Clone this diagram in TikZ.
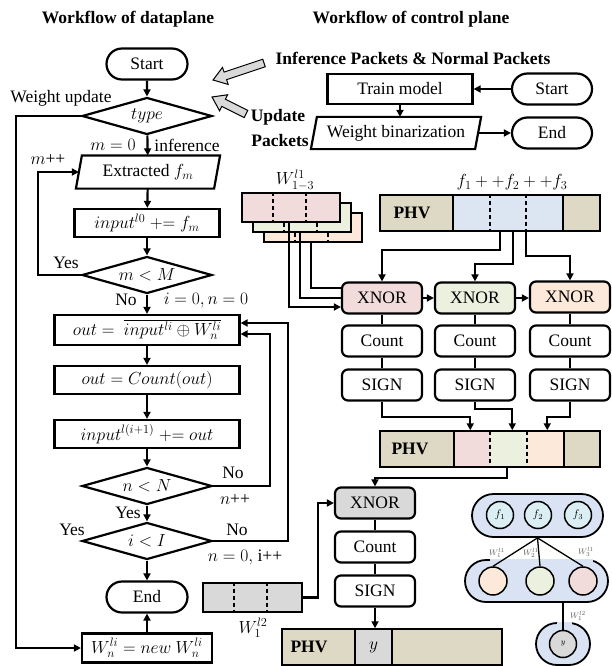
\RequirePackage{fix-cm}
\documentclass[tikz,border=0pt]{standalone}
\usepackage{fontspec}
\setmainfont{Liberation Serif}
\usetikzlibrary{shapes.geometric,shapes.misc,arrows.meta,calc}
\definecolor{cpink}{HTML}{F2DCDB}
\definecolor{cgreen}{HTML}{EBF1DE}
\definecolor{corange}{HTML}{FDE9D9}
\definecolor{cblue}{HTML}{DCE6F2}
\definecolor{ctan}{HTML}{DDD9C4}
\definecolor{cgray}{HTML}{D9D9D9}
\definecolor{cnn}{HTML}{DAE3F3}
\definecolor{ccyan}{HTML}{DAEEF3}
\newcommand\myfs{\fontsize{17.5}{20}\selectfont}
\newcommand\myfsb{\fontsize{17.5}{20}\selectfont\bfseries}
\newcommand\myfsm{\fontsize{11}{12}\selectfont}
\newcommand\myfst{\fontsize{8}{9}\selectfont}
\newcommand\grayarrow[2]{%
  \coordinate (gaT) at #1; \coordinate (gaH) at #2;
  \coordinate (gaB) at ($(gaH)!13pt!(gaT)$);
  \draw[line width=1pt, fill=cgray] ($(gaT)!4pt!90:(gaH)$) -- ($(gaB)!4pt!90:(gaH)$) -- ($(gaB)!9pt!90:(gaH)$) -- (gaH) -- ($(gaB)!9pt!-90:(gaH)$) -- ($(gaB)!4pt!-90:(gaH)$) -- ($(gaT)!4pt!-90:(gaH)$) -- cycle;}
\tikzset{
  lw/.style={line width=2.2pt},
  base/.style={font=\myfs, inner sep=0pt, lw},
  sbox/.style={base, draw, rectangle, minimum width=#1, minimum height=28pt},
  term/.style={base, draw, rounded rectangle, minimum width=81pt, minimum height=31pt},
  dia/.style={base, draw, diamond, aspect=3.5, minimum width=130pt, minimum height=37pt},
  plain/.style={font=\myfs, inner sep=1pt},
  arr/.style={lw, -{Triangle[length=7pt,width=7pt]}},
  rbox/.style={base, draw, rounded corners=6pt, minimum width=80pt, minimum height=31pt},
  wrect/.style={draw, lw, minimum width=98pt, minimum height=29pt, inner sep=0pt},
  ptan/.style={draw, fill=ctan, line width=1.5pt, minimum width=220pt, minimum height=36pt, inner sep=0pt},
  seg/.style={minimum width=#1, minimum height=36pt, inner sep=0pt},
  dsh/.style={lw, dash pattern=on 4pt off 3pt},
  capsule/.style={draw, fill=cnn, rounded rectangle, line width=1.8pt, inner sep=0pt},
  nc/.style={circle, draw, line width=1.5pt, minimum size=#1, inner sep=0pt, font=\myfsm},
  nnlab/.style={font=\myfst, text=black!65, inner sep=0pt},
}
\begin{document}
\begin{tikzpicture}[x=1pt,y=-1pt]
\useasboundingbox (0,0) rectangle (611,666);
% titles
\node[font=\myfsb] (t1) at (128,19) {Workflow of dataplane};
\node[font=\myfsb] (t2) at (411,19) {Workflow of control plane};
% ---------------- data plane flowchart
\node[term] (st) at (147,64) {Start};
\node[dia] (ty) at (147,116) {$type$};
\node[base, minimum width=136pt, minimum height=31pt] (ex) at (148,172) {Extracted $f_m$};
\draw[lw] ($(ex.north west)+(3,0)$) -- ($(ex.north east)+(3,0)$) -- ($(ex.south east)+(-3,0)$) -- ($(ex.south west)+(-3,0)$) -- cycle;
\node[sbox=145pt] (i0) at (147,223) {$input^{l0} \mathrel{+{=}} f_m$};
\node[dia] (mM) at (147,275) {$m<M$};
\node[sbox=185pt, minimum height=30pt] (ou) at (147,330) {$out =\ \overline{input^{li}\oplus W_n^{li}}$};
\node[sbox=185pt] (cn) at (147,380) {$out = Count(out)$};
\node[sbox=185pt] (i1) at (147,434) {$input^{l(i+1)} \mathrel{+{=}} out$};
\node[dia] (nN) at (147,486) {$n<N$};
\node[dia] (iI) at (147,541) {$i<I$};
\node[term] (en) at (147,597) {End};
\node[sbox=130pt, minimum height=29pt] (wn) at (147,648) {$W_n^{li} = new\ W_n^{li}$};
\draw[arr] (st) -- (ty);
\draw[arr] (ty) -- (ex);
\draw[arr] (ex) -- (i0);
\draw[arr] (i0) -- (mM);
\draw[arr] (mM) -- (ou);
\draw[arr] (ou) -- (cn);
\draw[arr] (cn) -- (i1);
\draw[arr] (i1) -- (nN);
\draw[arr] (nN) -- (iI);
\draw[arr] (iI) -- (en);
\draw[arr] (wn) -- (en);
\coordinate (Lm) at (38,0);
\coordinate (Lo) at (16,0);
\coordinate (Rn) at (270,0);
\coordinate (Ri) at (288,0);
\draw[arr] (mM.west) -- (mM.west -| Lm) |- (ex.west);
\draw[arr] (ty.west) -- (ty.west -| Lo) |- (wn.west);
\draw[arr] (nN.east) -- (nN.east -| Rn) |- ($(ou.east)+(0,4)$);
\draw[arr] (iI.east) -- (iI.east -| Ri) |- ($(ou.east)+(0,-7)$);
% labels
\node[plain] (lwu) at (61,98) {Weight update};
\node[plain] (lm0) at (113,145) {$m=0$};
\node[plain] (linf) at (187,145) {inference};
\node[plain] (lmpp) at (48,160) {$m$++};
\node[plain] (ly1) at (66,263) {Yes};
\node[plain] (ln1) at (126,300) {No};
\node[plain] (li0) at (206,300) {$i=0,n=0$};
\node[plain] (ln2) at (233,473) {No};
\node[plain] (lnpp) at (235,500) {$n$++};
\node[plain] (ly2) at (128,513) {Yes};
\node[plain] (ly3) at (72,530) {Yes};
\node[plain] (ln3) at (237,530) {No};
\node[plain] (li3) at (245,557) {$n=0,$ i++};
% gray packet arrows
\grayarrow{(264,63)}{(213,80)}
\grayarrow{(246,114)}{(212,97)}
% ---------------- control plane
\node[font=\myfsb, inner sep=1pt] (lip) at (413,58) {Inference Packets \& Normal Packets};
\node[sbox=145pt, minimum height=30pt] (tm) at (400,89) {Train model};
\node[term, minimum width=80pt] (st2) at (552,89) {Start};
\node[base, minimum width=162pt, minimum height=30pt] (wb) at (396,133) {Weight binarization};
\draw[lw] ($(wb.north west)+(3,0)$) -- ($(wb.north east)+(3,0)$) -- ($(wb.south east)+(-3,0)$) -- ($(wb.south west)+(-3,0)$) -- cycle;
\node[term, minimum width=80pt] (en2) at (552,133) {End};
\draw[arr] (st2) -- (tm);
\draw[arr] (tm) -- (tm |- wb.north);
\draw[arr] (wb.east) -- (en2);
\node[font=\myfsb, inner sep=1pt] (lup) at (278,117) {Update};
\node[font=\myfsb, inner sep=1pt] (lpk) at (280,141) {Packets};
% weight stack
\node[wrect, fill=corange] (wk3) at (313,227.5) {};
\draw[dsh] ($(wk3.north west)+(32,0)$) -- ($(wk3.south west)+(32,0)$);
\draw[dsh] ($(wk3.north west)+(65,0)$) -- ($(wk3.south west)+(65,0)$);
\node[wrect, fill=cgreen] (wk2) at (302,217.5) {};
\draw[dsh] ($(wk2.north west)+(32,0)$) -- ($(wk2.south west)+(32,0)$);
\draw[dsh] ($(wk2.north west)+(65,0)$) -- ($(wk2.south west)+(65,0)$);
\node[wrect, fill=cpink] (wk1) at (291,207.5) {};
\draw[dsh] ($(wk1.north west)+(32,0)$) -- ($(wk1.south west)+(32,0)$);
\draw[dsh] ($(wk1.north west)+(65,0)$) -- ($(wk1.south west)+(65,0)$);
\node[font=\myfs, inner sep=0pt] (lw1) at (295,180) {$W_{1-3}^{l1}$};
% PHV 1
\node[ptan] (p1) at (490,213) {};
\node[draw, fill=cblue, lw, seg=110pt] (p1s) at (508,213) {};
\draw[dsh] ($(p1s.north west)+(38,0)$) -- ($(p1s.south west)+(38,0)$);
\draw[dsh] ($(p1s.north west)+(74,0)$) -- ($(p1s.south west)+(74,0)$);
\node[font=\myfsb, inner sep=0pt] (p1l) at (412,213) {PHV};
\node[font=\myfs, inner sep=0pt] (lf) at (512,182) {$f_1++f_2++f_3$};
% XNOR stage
\node[rbox, fill=cpink] (x1) at (382,298) {XNOR};
\node[rbox, fill=cgreen] (x2) at (475,298) {XNOR};
\node[rbox, fill=corange] (x3) at (570,297) {XNOR};
\node[rbox] (c1) at (382,341) {Count};
\node[rbox] (c2) at (475,341) {Count};
\node[rbox] (c3) at (570,341) {Count};
\node[rbox] (s1) at (382,385) {SIGN};
\node[rbox] (s2) at (475,385) {SIGN};
\node[rbox] (s3) at (570,385) {SIGN};
\draw[lw] (x1) -- (c1) (c1) -- (s1);
\draw[lw] (x2) -- (c2) (c2) -- (s2);
\draw[lw] (x3) -- (c3) (c3) -- (s3);
\draw[arr] (x1) -- (x2);
\draw[arr] (x2.east) -- (x2.east -| x3.west);
\draw[arr] ($(wk1.south west)+(48,0)$) |- ($(x1.west)+(0,9)$);
\draw[lw] ($(wk2.south west)+(48,0)$) |- (x1.west);
\draw[lw] ($(wk3.south west)+(48,0)$) |- ($(x1.west)+(0,-10)$);
\draw[arr] ($(p1s.south west)+(48,0)$) -- ++(0,18) -| (x1.north);
\draw[arr] ($(p1s.south west)+(61,0)$) -- ++(0,32) -| (x2.north);
\draw[arr] ($(p1s.south west)+(74,0)$) -- ++(0,24) -| (x3.north);
% PHV 2
\node[ptan] (p2) at (490,449) {};
\node[fill=cpink, seg=36pt] (p2a) at (472,449) {};
\node[fill=cgreen, seg=37pt] (p2b) at (508.5,449) {};
\node[fill=corange, seg=37pt] (p2c) at (545.5,449) {};
\draw[lw] (p2a.north west) rectangle (p2c.south east);
\draw[dsh] (p2a.north east) -- (p2a.south east);
\draw[dsh] (p2b.north east) -- (p2b.south east);
\node[font=\myfsb, inner sep=0pt] (p2l) at (410,449) {PHV};
\draw[arr] (s1.south) -- ++(0,15) -| ($(p2.north west)+(91,0)$);
\draw[arr] (s2.south) -- ++(0,7) -| ($(p2.north west)+(133,0)$);
\draw[arr] (s3.south) -- ++(0,15) -| ($(p2.north west)+(168,0)$);
% second layer
\node[rbox, fill=cgray] (x4) at (375,503) {XNOR};
\node[rbox] (c4) at (375,547) {Count};
\node[rbox] (s4) at (375,591) {SIGN};
\draw[lw] (x4) -- (c4) (c4) -- (s4);
\draw[arr] ($(p2.south west)+(128,0)$) -- ++(0,10) -| (x4.north);
\node[ptan] (p3) at (392,647) {};
\node[draw, fill=cgray, lw, seg=37pt, font=\myfs] (p3y) at (373.5,647) {$y$};
\node[font=\myfsb, inner sep=0pt] (p3l) at (309,647) {PHV};
\draw[arr] (s4) -- (s4 |- p3.north);
\node[wrect, fill=cgray, minimum width=99pt] (w2) at (252.5,597.5) {};
\draw[dsh] ($(w2.north west)+(32,0)$) -- ($(w2.south west)+(32,0)$);
\draw[dsh] ($(w2.north west)+(65,0)$) -- ($(w2.south west)+(65,0)$);
\node[font=\myfs, inner sep=0pt] (lw2) at (253,628) {$W_1^{l2}$};
\draw[arr] (w2.east) -- ++(15,0) |- (x4.west);
% ---------------- small network
\node[capsule, minimum width=131pt, minimum height=43pt] (cap1) at (537.5,515.5) {};
\node[capsule, minimum width=143pt, minimum height=42pt] (cap2) at (536.5,581) {};
\fill[cnn] (490,558.6) rectangle (593,561.6);
\node[capsule, minimum width=54pt, minimum height=42pt] (cap3) at (563,644) {};
\fill[cnn] (557,621.6) rectangle (572,624.6);
\node[nc=27pt, fill=ccyan] (f1) at (500,515) {$f_1$};
\node[nc=27pt, fill=ccyan] (f2) at (538,515) {$f_2$};
\node[nc=27pt, fill=ccyan] (f3) at (578,515) {$f_3$};
\node[nc=28pt, fill=corange] (h1) at (493,581) {};
\node[nc=28pt, fill=cgreen] (h2) at (540,581) {};
\node[nc=28pt, fill=cpink] (h3) at (583,581) {};
\node[nc=27pt, fill=cgray, font=\myfst] (yc) at (563,644) {$y$};
\draw[line width=1.3pt] (cap1.south) -- (h1.north);
\draw[line width=1.3pt] (cap1.south) -- (h2.north);
\draw[line width=1.3pt] (cap1.south) -- (h3.north);
\draw[line width=1.3pt] (yc |- cap2.south) -- (yc.north);
\node[nnlab] (l11) at (497,553) {$W_1^{l1}$};
\node[nnlab] (l21) at (531,553) {$W_2^{l1}$};
\node[nnlab] (l31) at (586,552) {$W_3^{l1}$};
\node[nnlab] (l12) at (578,616) {$W_1^{l2}$};
\end{tikzpicture}
\end{document}
